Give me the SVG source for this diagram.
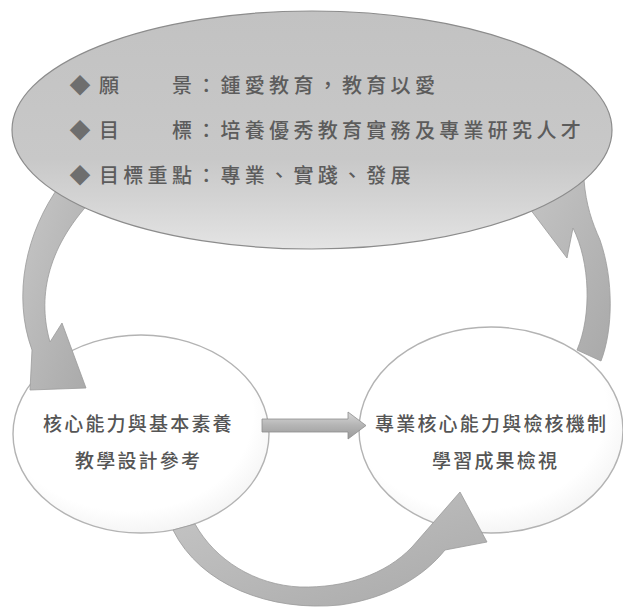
<svg xmlns="http://www.w3.org/2000/svg" width="623" height="610" viewBox="0 0 623 610">
<defs>
<linearGradient id="gEll" x1="0" y1="0" x2="0" y2="1">
<stop offset="0" stop-color="#c2c2c2"/>
<stop offset="0.62" stop-color="#c8c8c8"/>
<stop offset="0.8" stop-color="#d4d4d4"/>
<stop offset="1" stop-color="#e4e4e4"/>
</linearGradient>
<linearGradient id="gArc" x1="0" y1="0" x2="1" y2="1">
<stop offset="0" stop-color="#c6c6c6"/>
<stop offset="1" stop-color="#a9a9a9"/>
</linearGradient>
<linearGradient id="gH" x1="0" y1="0" x2="0" y2="1">
<stop offset="0" stop-color="#d8d8d8"/>
<stop offset="0.5" stop-color="#b4b4b4"/>
<stop offset="1" stop-color="#9a9a9a"/>
</linearGradient>
<radialGradient id="gCirc" cx="0.45" cy="0.4" r="0.65">
<stop offset="0.75" stop-color="#ffffff"/>
<stop offset="1" stop-color="#f1f1f1"/>
</radialGradient>
<style>
.arc{fill:url(#gArc);stroke:#9a9a9a;stroke-width:0.8}
.circ{fill:url(#gCirc);stroke:#b3b3b3;stroke-width:1.4}
.top{font-family:"Noto Sans CJK TC","Noto Sans CJK SC",sans-serif;font-size:20px;font-weight:500;letter-spacing:4.3px;fill:#5c5c5c}
.bul{font-family:"Noto Sans CJK TC",sans-serif;font-size:21px;fill:#6e6e6e;text-anchor:middle}
.lbl{font-family:"Noto Sans CJK TC","Noto Sans CJK SC",sans-serif;font-size:19px;font-weight:500;letter-spacing:2.2px;fill:#555555}
</style>
</defs>

<g id="node-left">
<ellipse class="circ" cx="141" cy="434" rx="128" ry="99"/>
<text class="lbl" x="43" y="431">核心能力與基本素養</text>
<text class="lbl" x="75" y="468">教學設計參考</text>
</g>

<g id="node-right">
<ellipse class="circ" cx="491" cy="430" rx="132" ry="103"/>
<text class="lbl" x="375" y="431">專業核心能力與檢核機制</text>
<text class="lbl" x="432" y="468">學習成果檢視</text>
</g>

<g id="connectors">
<path id="arc-right" class="arc" d="M 515,185 L 527,205 L 567,258 L 573,228 C 590,262 592,315 577,350 L 601,361 C 613,330 614,280 600,240 C 592,222 586,205 584,180 Z"/>
<path id="arc-left" class="arc" d="M 60,185 C 26,232 12,295 32,350 L 30,390 L 86,388 L 62,323 L 50,342 C 38,300 45,250 92,200 Z"/>
<path id="arc-bottom" class="arc" d="M 173,530 C 200,585 270,612 340,605 C 390,598 425,575 445,550 L 487,542 L 460,492 L 412,547 C 385,575 345,588 300,587 C 255,585 215,560 195,524 Z"/>
<path id="arrow-mid" fill="url(#gH)" stroke="#8e8e8e" stroke-width="0.8" d="M 262,419 L 348,419 L 348,412 L 366,425.5 L 348,439 L 348,432 L 262,432 Z"/>
</g>

<g id="node-top">
<ellipse cx="312" cy="130" rx="300" ry="119" fill="url(#gEll)" stroke="#8c8c8c" stroke-width="1.2"/>
<text class="bul" x="80" y="93">◆</text>
<text class="bul" x="80" y="138">◆</text>
<text class="bul" x="80" y="183">◆</text>
<text class="top" x="99" y="93">願　　景：鍾愛教育，教育以愛</text>
<text class="top" x="99" y="138">目　　標：培養優秀教育實務及專業研究人才</text>
<text class="top" x="99" y="183">目標重點：專業、實踐、發展</text>
</g>
</svg>
